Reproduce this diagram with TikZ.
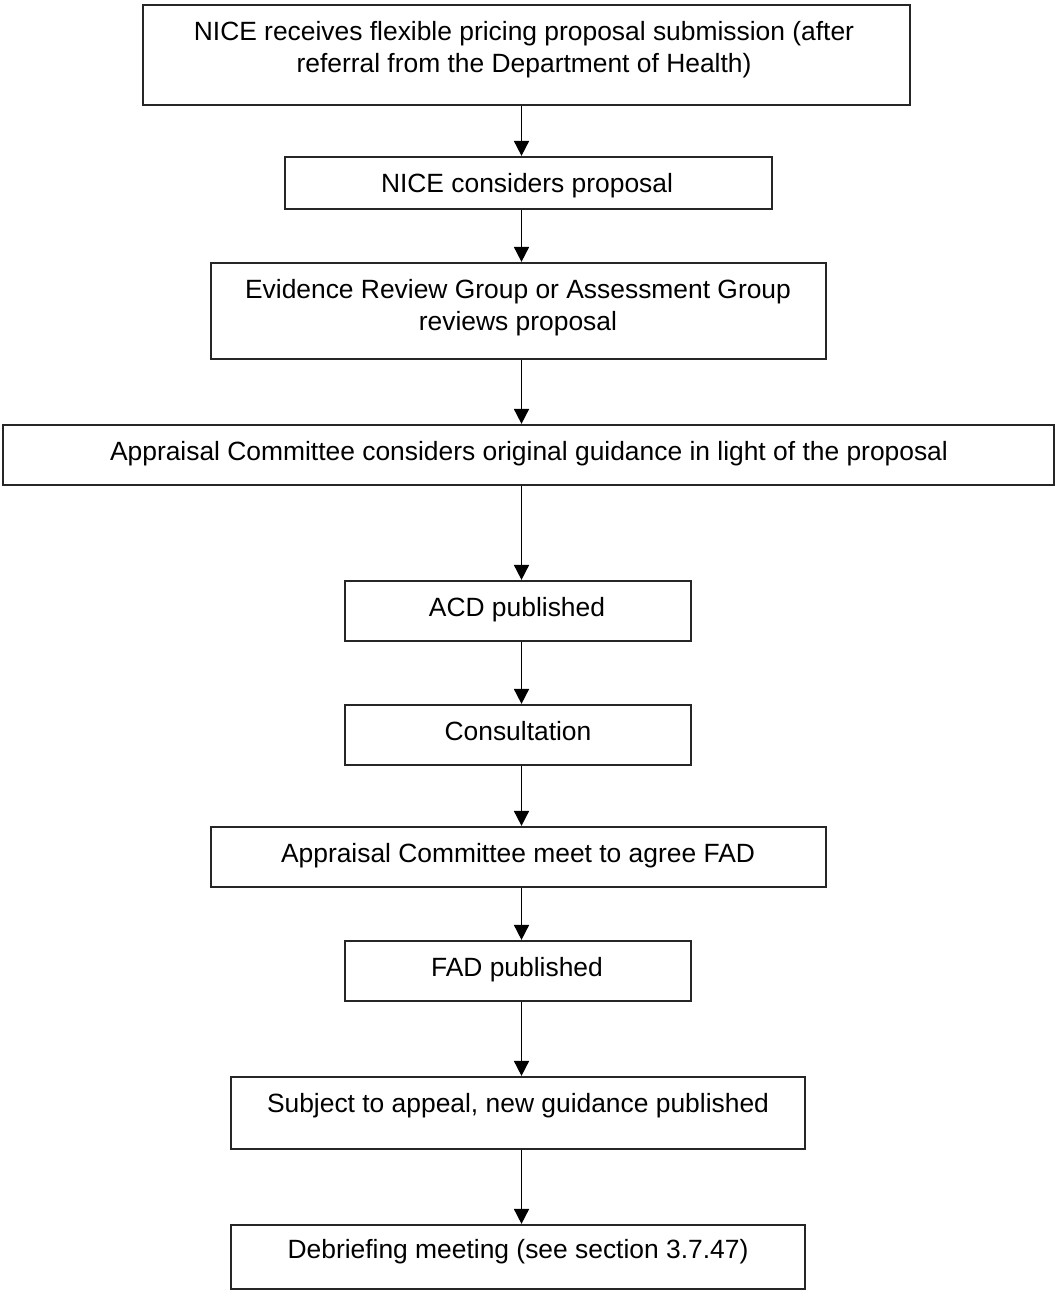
\documentclass[tikz,border=0pt]{standalone}
\usepackage{fontspec}
\setmainfont{Liberation Sans}
\usetikzlibrary{arrows.meta,fit}
\begin{document}
\begin{tikzpicture}[x=0.5pt,y=-0.5pt,
  stepbox/.style={draw=black!85,line width=1.1pt,rectangle,inner sep=0pt},
  lbl/.style={anchor=base,inner sep=0pt,align=center,
    font=\fontsize{13.2}{16}\selectfont},
  flow/.style={draw=black,line width=0.85pt,-{Triangle[width=7.5pt,length=7.5pt]}}]
\useasboundingbox (0,0) rectangle (1056,1291);

% boxes
\node[stepbox,fit={(143,5) (910,105)}]    (b1) {};
\node[stepbox,fit={(285,157) (772,209)}]  (b2) {};
\node[stepbox,fit={(211,263) (826,359)}]  (b3) {};
\node[stepbox,fit={(3,425) (1054,485)}]   (b4) {};
\node[stepbox,fit={(345,581) (691,641)}]  (b5) {};
\node[stepbox,fit={(345,705) (691,765)}]  (b6) {};
\node[stepbox,fit={(211,827) (826,887)}]  (b7) {};
\node[stepbox,fit={(345,941) (691,1001)}] (b8) {};
\node[stepbox,fit={(231,1077) (805,1149)}] (b9) {};
\node[stepbox,fit={(231,1225) (805,1289)}] (b10) {};

% labels (base anchor sits on the last line)
\node[lbl] (t1) at (524,72) {NICE receives flexible pricing proposal submission (after\\referral from the Department of Health)};
\node[lbl] (t2) at (527,192) {NICE considers proposal};
\node[lbl] (t3) at (518,330) {Evidence Review Group or Assessment Group\\reviews proposal};
\node[lbl] (t4) at (529,460) {Appraisal Committee considers original guidance in light of the proposal};
\node[lbl] (t5) at (517,616) {ACD published};
\node[lbl] (t6) at (518,740) {Consultation};
\node[lbl] (t7) at (518,862) {Appraisal Committee meet to agree FAD};
\node[lbl] (t8) at (517,976) {FAD published};
\node[lbl] (t9) at (518,1112) {Subject to appeal, new guidance published};
\node[lbl] (t10) at (518,1258) {Debriefing meeting (see section 3.7.47)};

% connectors along the common axis
\coordinate (ax) at (521.5,0);
\draw[flow] (b1.south -| ax) -- (b2.north -| ax);
\draw[flow] (b2.south -| ax) -- (b3.north -| ax);
\draw[flow] (b3.south -| ax) -- (b4.north -| ax);
\draw[flow] (b4.south -| ax) -- (b5.north -| ax);
\draw[flow] (b5.south -| ax) -- (b6.north -| ax);
\draw[flow] (b6.south -| ax) -- (b7.north -| ax);
\draw[flow] (b7.south -| ax) -- (b8.north -| ax);
\draw[flow] (b8.south -| ax) -- (b9.north -| ax);
\draw[flow] (b9.south -| ax) -- (b10.north -| ax);
\end{tikzpicture}
\end{document}
